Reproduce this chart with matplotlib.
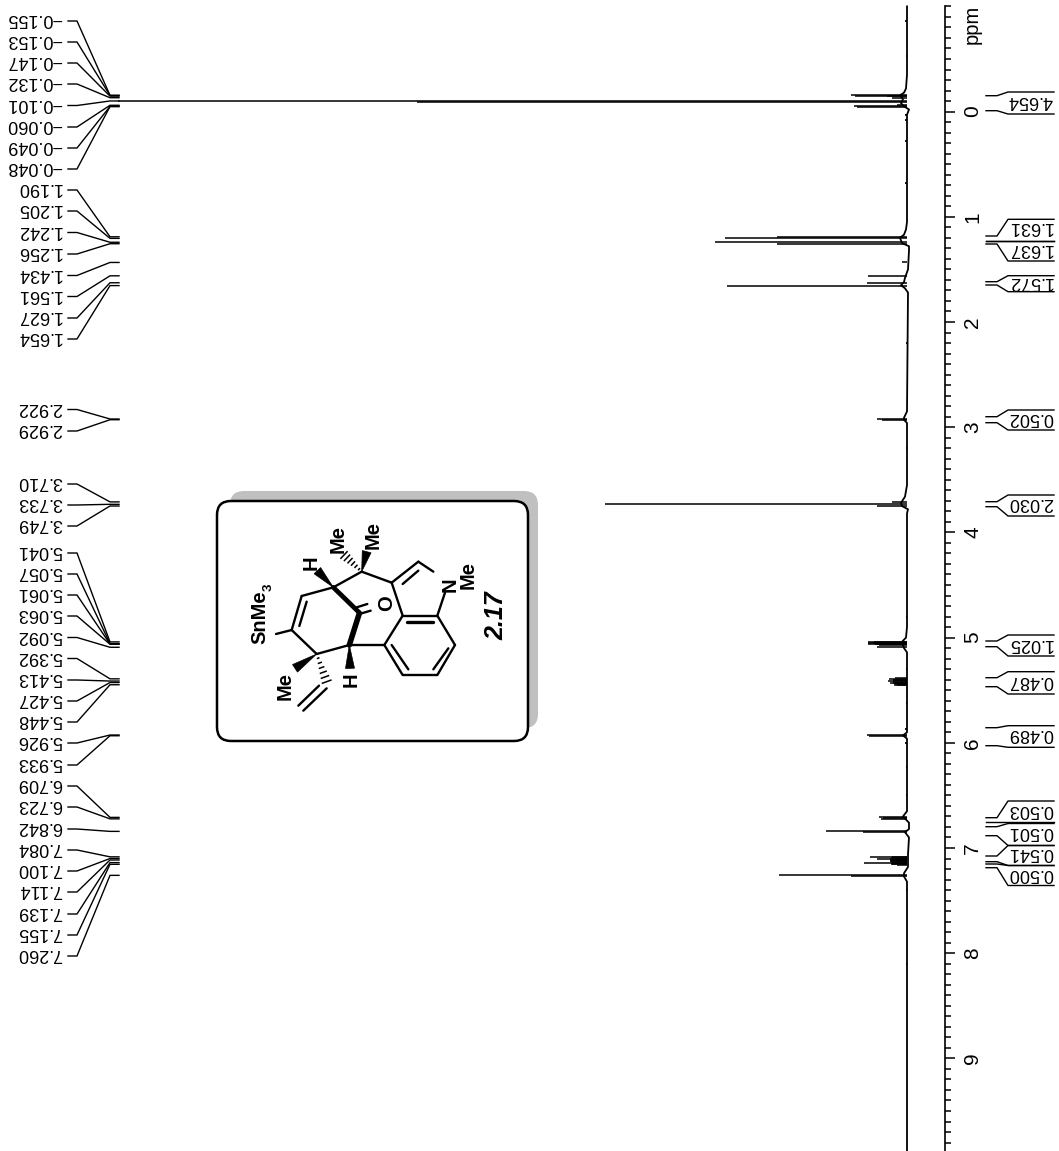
import matplotlib
matplotlib.use('Agg')
import matplotlib.pyplot as plt
from matplotlib.patches import FancyBboxPatch, Polygon
from matplotlib.ticker import FixedLocator, MultipleLocator
import numpy as np

plt.rcParams['font.family'] = ['Liberation Sans', 'DejaVu Sans']

# picked peaks, ppm and height
label_ppm = [-0.155, -0.153, -0.147, -0.132, -0.101, -0.060, -0.049, -0.048,
             1.190, 1.205, 1.242, 1.256, 1.434, 1.561, 1.627, 1.654,
             2.922, 2.929, 3.710, 3.733, 3.749,
             5.041, 5.057, 5.061, 5.063, 5.092, 5.392, 5.413, 5.427, 5.448,
             5.926, 5.933, 6.709, 6.723, 6.842,
             7.084, 7.100, 7.114, 7.139, 7.155, 7.260]
label_h = [56, 52, 20, 15, 789, 10, 53, 50,
           130, 182, 192, 130, 5, 39, 40, 180,
           30, 25, 15, 302, 30,
           33, 39, 32, 30, 30, 18, 19, 17, 13,
           40, 38, 28, 26, 81,
           37, 30, 15, 43, 16, 128]
# unpicked lines that thicken the multiplets
extra_ppm = [-0.096, 5.046, 5.050, 5.054, 5.070, 5.385, 5.400, 5.405, 5.420, 5.435, 5.440, 5.455,
             6.716, 6.845, 7.090, 7.095, 7.105, 7.110, 7.120, 7.125, 7.130, 7.145, 7.150, 7.165, 7.263]
extra_h = [490, 39, 39, 34, 28, 12, 14, 14, 14, 14, 12, 10,
           24, 44, 15, 16, 17, 17, 17, 17, 16, 15, 15, 10, 56]
# baseline with the shoulders of the big peaks
base_ppm = [-1.0, -0.35, -0.22, -0.18, -0.155, -0.12, -0.08, -0.05, -0.02, 0.03, 1.05, 1.12, 1.17, 1.20,
            1.25, 1.28, 1.32, 1.5, 1.58, 1.62, 1.65, 1.68, 1.72, 2.85, 2.91, 2.93, 2.96,
            3.55, 3.66, 3.72, 3.75, 3.78, 3.82, 4.9, 5.0, 5.04, 5.1, 5.14, 5.9, 5.93, 5.96,
            6.65, 6.7, 6.76, 6.82, 6.85, 6.9, 7.06, 7.18, 7.24, 7.27, 7.32, 9.88]
base_h = [0, 0, 1, 3, 7, 4, 6, 3, -2, 0, 0, 1, 3, 7,
          5, -2, -2, -1, 2, 3, 6, 2, -1, 0, 3, 3, 0,
          0, 2, 6, 5, -1, 0, 0, 1, 5, 3, 0, 0, 4, 0,
          0, 4, -2, -2, 2, -2, -1, -1, 3, 3, 0, 0]
speck_ppm = [-0.86, -0.53, 0.03, 0.08, 0.28, 0.68, 2.2, 3.2, 4.8, 5.3, 5.62, 5.87, 6.0, 6.23, 6.5, 7.4, 8.1]
speck_h = [2, 1, 2, 2, 2, 2, 1, 1, 1, 1, 1, 2, 2, 1, 1, 1, 1]

major_ticks = [0, 1, 2, 3, 4, 5, 6, 7, 8, 9]

integral_values = ['4.654', '1.631', '1.637', '1.572', '0.502', '2.030', '1.025', '0.487',
                   '0.489', '0.503', '0.501', '0.541', '0.500']

# layout, in reference pixels
label_px = [21, 42, 63, 84, 105.5, 127, 148, 169, 190, 211, 232.5, 254, 275.5, 296.5, 318, 339,
            409.5, 431, 484, 505, 526, 553, 574, 595, 616, 637.5, 658.5, 680, 701, 722,
            743, 765, 786, 807, 829, 850, 871, 892, 914, 935, 956]
# stub top, stub bottom, box top, box bottom, text centre
integral_px = [(95.7, 110.7, 92, 114, 103),
               (236, 240.7, 219.3, 240.7, 229),
               (240.7, 244, 240.7, 261, 251),
               (281.7, 285, 275.7, 291.7, 284),
               (416.7, 422.7, 410, 430, 420),
               (501.7, 506.7, 495, 516, 505),
               (641, 646.7, 635, 656, 645.5),
               (677.7, 686.7, 671.7, 694, 682.5),
               (727.7, 745.7, 725.7, 747.3, 736),
               (817.7, 822, 801, 822, 811.5),
               (826.7, 835.7, 823.5, 845.5, 834),
               (856, 861.7, 845.5, 865.5, 854.5),
               (864, 867.7, 865.5, 885.5, 875.5)]

W, H = 1059, 1151
PX_0 = 111.6
PX_PPM = 105.2
TXT_SHIFT = 2.5  # va center counts the descender, upside down text sits low


def ppm_px(p):
    return PX_0 + PX_PPM * p


fig = plt.figure(figsize=(W / 100, H / 100), dpi=100)
ax = fig.add_axes([0, 0, 1, 1])
ax.patch.set_alpha(0)
# x runs in reference pixels left of the baseline
ax.set_xlim(907, 907 - W)
ax.set_ylim((H - PX_0) / PX_PPM, -PX_0 / PX_PPM)

ax.plot(base_h, base_ppm, color='black', lw=1.3, solid_joinstyle='round')
ax.hlines(label_ppm, 0, label_h, color='black', lw=1.1)
ax.hlines(extra_ppm, 0, extra_h, color='black', lw=1.1)
ax.hlines(speck_ppm, 0, speck_h, color='black', lw=1.3)

for s in ['left', 'top', 'bottom']:
    ax.spines[s].set_visible(False)
ax.spines['right'].set_position(('data', -38))
ax.spines['right'].set_bounds(-1.0, (H - PX_0) / PX_PPM)
ax.spines['right'].set_linewidth(1.2)
ax.xaxis.set_visible(False)
ax.yaxis.tick_right()
ax.yaxis.set_major_locator(FixedLocator(major_ticks))
ax.yaxis.set_minor_locator(MultipleLocator(0.1))
ax.tick_params(axis='y', which='major', length=7.2, width=1.1, pad=6, labelsize=15, labelrotation=90)
ax.tick_params(axis='y', which='minor', length=4.3, width=1.1)
for t in ax.get_yticklabels():
    t.set_va('center')

# overlay in pixels for the annotations
ov = fig.add_axes([0, 0, 1, 1])
ov.set_xlim(0, W)
ov.set_ylim(H, 0)
ov.axis('off')
ov.patch.set_alpha(0)

ov.text(972, 24, 'ppm', rotation=90, ha='center', va='center', fontsize=14.5)

for p, y in zip(label_ppm, label_px):
    txt = ('\u2212%.3f' % -p) if p < 0 else ('%.3f' % p)
    ov.text(62, y - TXT_SHIFT, txt, rotation=180, ha='right', va='center', fontsize=13)
    py = ppm_px(p)
    ov.plot([68, 77, 110, 119], [y, y, py, py], color='black', lw=1.0)

for v, (s1, s2, b1, b2, yc) in zip(integral_values, integral_px):
    ov.text(1053, yc - TXT_SHIFT, v, rotation=180, ha='right', va='center', fontsize=13)
    ov.plot([986, 997, 1008, 1054], [s1, s1, b1, b1], color='black', lw=1.0)
    ov.plot([986, 997, 1008, 1054], [s2, s2, b2, b2], color='black', lw=1.0)

# structure box
ov.add_patch(FancyBboxPatch((230, 491), 308, 237, boxstyle='round,pad=0,rounding_size=14',
                            fc='#c0c0c0', ec='none'))
ov.add_patch(FancyBboxPatch((217, 501), 311, 240, boxstyle='round,pad=0,rounding_size=14',
                            fc='white', ec='black', lw=1.8))


def zp(x, y):
    return 200 + x / 3, 480 + y / 3


def bond(a, b, lw=1.7):
    x0, y0 = zp(*a)
    x1, y1 = zp(*b)
    ov.plot([x0, x1], [y0, y1], color='black', lw=lw, solid_capstyle='round')


def wedge(a, b, w=9):
    p = np.array(zp(*a))
    q = np.array(zp(*b))
    d = q - p
    n = np.array([-d[1], d[0]]) / np.hypot(*d) * w / 2
    ov.add_patch(Polygon([p, q + n, q - n], fc='black', ec='black', lw=0.5))


def hashed(a, b, w=9, n=6):
    p = np.array(zp(*a))
    q = np.array(zp(*b))
    d = q - p
    perp = np.array([-d[1], d[0]]) / np.hypot(*d)
    for f in np.linspace(0.15, 1, n):
        c = p + d * f
        h = perp * w * f / 2
        ov.plot([c[0] - h[0], c[0] + h[0]], [c[1] - h[1], c[1] + h[1]], color='black', lw=1.1)


for a, b in [((485, 275), (400, 322)), ((400, 322), (305, 348)), ((305, 348), (275, 450)),
             ((320, 365), (298, 438)), ((275, 450), (350, 522)), ((350, 522), (448, 495)),
             ((448, 495), (553, 495)), ((553, 495), (608, 407)), ((608, 407), (712, 407)),
             ((712, 407), (765, 495)), ((765, 495), (712, 585)), ((712, 585), (608, 585)),
             ((608, 585), (553, 495)), ((745, 505), (700, 568)), ((625, 568), (575, 495)),
             ((608, 407), (575, 308)), ((575, 308), (485, 275)), ((575, 308), (655, 245)),
             ((608, 312), (655, 272)), ((655, 245), (700, 275)), ((712, 407), (735, 338)),
             ((275, 450), (228, 462)), ((478, 402), (512, 392)), ((470, 382), (502, 372)),
             ((380, 625), (310, 692)), ((357, 617), (295, 677))]:
    bond(a, b)
bond((620, 425), (700, 425), lw=2.4)
bond((400, 322), (478, 398), lw=3.4)
bond((478, 400), (448, 495), lw=4.0)
wedge((448, 495), (450, 565), w=9)
wedge((400, 322), (352, 272), w=9)
wedge((485, 275), (500, 215), w=9)
wedge((350, 522), (285, 565), w=9)
hashed((485, 275), (432, 225))
hashed((350, 522), (380, 605))

for s, x, y, fs in [('H', 334, 248, 14.5), ('Me', 414, 178, 14.5), ('Me', 519, 165, 14.5), ('H', 454, 600, 14.5),
                    ('Me', 254, 618, 14.5), ('O', 559, 368, 14.5), ('N', 749, 313, 14.5), ('Me', 804, 285, 14.5),
                    ('SnMe', 179, 412, 14.5), ('3', 207, 322, 9.5)]:
    cx, cy = zp(x, y)
    ov.text(cx, cy, s, rotation=90, ha='center', va='center', fontsize=fs, fontweight='bold')
cx, cy = zp(889, 408)
ov.text(cx, cy, '2.17', rotation=90, ha='center', va='center', fontsize=18, fontweight='bold', style='italic')

fig.savefig('out.png', dpi=100)
